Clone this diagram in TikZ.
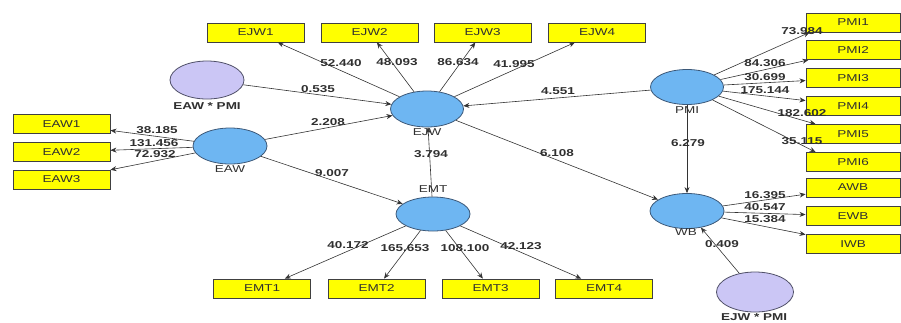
\documentclass[tikz,border=0pt]{standalone}
\usepackage{fontspec}
\setmainfont[FakeStretch=1.35]{Liberation Sans}
\usetikzlibrary{shapes.geometric,arrows.meta}
\definecolor{boxyellow}{HTML}{FFFF00}
\definecolor{boxedge}{HTML}{404040}
\definecolor{lvblue}{HTML}{6EB6F2}
\definecolor{lvedge}{HTML}{3C5878}
\definecolor{modfill}{HTML}{CBC6F5}
\definecolor{modedge}{HTML}{505068}
\definecolor{txtgray}{HTML}{303030}
\tikzset{
  mbox/.style={draw=boxedge,line width=0.9pt,fill=boxyellow,minimum width=97pt,minimum height=19pt,inner sep=0pt,font=\fontsize{10}{11}\selectfont,text=txtgray},
  latent/.style={ellipse,draw=lvedge,line width=0.8pt,fill=lvblue,inner sep=0pt},
  moder/.style={ellipse,draw=modedge,line width=0.8pt,fill=modfill,inner sep=0pt},
  lname/.style={font=\fontsize{10}{11}\selectfont,text=txtgray,inner sep=0pt},
  mname/.style={font=\fontsize{10}{11}\selectfont\bfseries,text=txtgray,inner sep=0pt},
  coef/.style={font=\fontsize{10}{11}\selectfont\bfseries,text=txtgray,inner sep=0pt},
  conn/.style={draw=black!80,line width=0.6pt,-{Stealth[length=6pt,width=5pt]}}
}
\begin{document}
\begin{tikzpicture}[x=1pt,y=-1pt]
\useasboundingbox (0,0) rectangle (901,322);
% indicator boxes
\node[mbox] (EJW1) at (255.5,32.5) {EJW1};
\node[mbox] (EJW2) at (369.5,32.5) {EJW2};
\node[mbox] (EJW3) at (482.5,32.5) {EJW3};
\node[mbox] (EJW4) at (597,32.5) {EJW4};
\node[mbox] (EAW1) at (61.5,124) {EAW1};
\node[mbox] (EAW2) at (61.5,152) {EAW2};
\node[mbox] (EAW3) at (61.5,179.5) {EAW3};
\node[mbox] (EMT1) at (262,288.5) {EMT1};
\node[mbox] (EMT2) at (376.5,288.5) {EMT2};
\node[mbox] (EMT3) at (490.5,288.5) {EMT3};
\node[mbox] (EMT4) at (604,288.5) {EMT4};
\node[mbox,minimum width=94pt] (PMI1) at (853,22.5) {PMI1};
\node[mbox,minimum width=94pt] (PMI2) at (853,50) {PMI2};
\node[mbox,minimum width=94pt] (PMI3) at (853,78) {PMI3};
\node[mbox,minimum width=94pt] (PMI4) at (853,106) {PMI4};
\node[mbox,minimum width=94pt] (PMI5) at (853,134) {PMI5};
\node[mbox,minimum width=94pt] (PMI6) at (853,162) {PMI6};
\node[mbox,minimum width=94pt] (AWB) at (853,187.5) {AWB};
\node[mbox,minimum width=94pt] (EWB) at (853,216) {EWB};
\node[mbox,minimum width=94pt] (IWB) at (853,244) {IWB};
% latent variables
\node[moder,minimum width=74pt,minimum height=38pt] (EAWPMI) at (207,80) {};
\node[latent,minimum width=74pt,minimum height=36pt] (EAW) at (230,146) {};
\node[latent,minimum width=73pt,minimum height=36pt] (EJW) at (427,109) {};
\node[latent,minimum width=74pt,minimum height=34pt] (EMT) at (433,214) {};
\node[latent,minimum width=73pt,minimum height=35pt] (PMI) at (687,87) {};
\node[latent,minimum width=74pt,minimum height=35pt] (WB) at (687,211) {};
\node[moder,minimum width=77pt,minimum height=40pt] (EJWPMI) at (755,292) {};
% latent names
\node[mname] (nEAWPMI) at (207,106) {EAW * PMI};
\node[lname] (nEAW) at (230,169.5) {EAW};
\node[lname] (nEJW) at (427,132) {EJW};
\node[lname] (nEMT) at (433,189) {EMT};
\node[lname] (nPMI) at (687,110) {PMI};
\node[lname] (nWB) at (686,232) {WB};
\node[mname] (nEJWPMI) at (754,317) {EJW * PMI};
% outer loadings
\draw[conn] (EJW) -- (EJW1);
\draw[conn] (EJW) -- (EJW2);
\draw[conn] (EJW) -- (EJW3);
\draw[conn] (EJW) -- (EJW4);
\draw[conn] (EAW) -- (EAW1);
\draw[conn] (EAW) -- (EAW2);
\draw[conn] (EAW) -- (EAW3);
\draw[conn] (EMT) -- (EMT1);
\draw[conn] (EMT) -- (EMT2);
\draw[conn] (EMT) -- (EMT3);
\draw[conn] (EMT) -- (EMT4);
\draw[conn] (PMI) -- ([xshift=4pt]PMI1.south west);
\draw[conn] (PMI) -- (PMI2);
\draw[conn] (PMI) -- (PMI3);
\draw[conn] (PMI) -- (PMI4);
\draw[conn] (PMI) -- ([xshift=10pt]PMI5.north west);
\draw[conn] (PMI) -- ([xshift=10pt]PMI6.north west);
\draw[conn] (WB) -- (AWB);
\draw[conn] (WB) -- (EWB);
\draw[conn] (WB) -- (IWB);
% structural paths
\draw[conn] (EAWPMI) -- (EJW);
\draw[conn] (EAW) -- (EJW);
\draw[conn] (EAW) -- (EMT);
\draw[conn] (EMT) -- (EJW);
\draw[conn] (EJW) -- (WB);
\draw[conn] (PMI) -- (EJW);
\draw[conn] (PMI) -- (WB);
\draw[conn] (EJWPMI) -- (WB);
% coefficients
\node[coef] (c1) at (341,63) {52.440};
\node[coef] (c2) at (397,62) {48.093};
\node[coef] (c3) at (458,62) {86.634};
\node[coef] (c4) at (514,64) {41.995};
\node[coef] (c5) at (318,89) {0.535};
\node[coef] (c6) at (558,91) {4.551};
\node[coef] (c7) at (328,122) {2.208};
\node[coef] (c8) at (431,154) {3.794};
\node[coef] (c9) at (557,153) {6.108};
\node[coef] (c10) at (332,173) {9.007};
\node[coef] (c11) at (157,130) {38.185};
\node[coef] (c12) at (154,143) {131.456};
\node[coef] (c13) at (155,154.5) {72.932};
\node[coef] (c14) at (348,245) {40.172};
\node[coef] (c15) at (405,248) {165.653};
\node[coef] (c16) at (465,248) {108.100};
\node[coef] (c17) at (521,246) {42.123};
\node[coef] (c18) at (802,31) {73.984};
\node[coef] (c19) at (765,63) {84.306};
\node[coef] (c20) at (765,77) {30.699};
\node[coef] (c21) at (765,90) {175.144};
\node[coef] (c22) at (802,113) {182.602};
\node[coef] (c23) at (802,141) {35.115};
\node[coef] (c24) at (688,143) {6.279};
\node[coef] (c25) at (765,195) {16.395};
\node[coef] (c26) at (765,207) {40.547};
\node[coef] (c27) at (765,219) {15.384};
\node[coef] (c28) at (722,244) {0.409};
\end{tikzpicture}
\end{document}
